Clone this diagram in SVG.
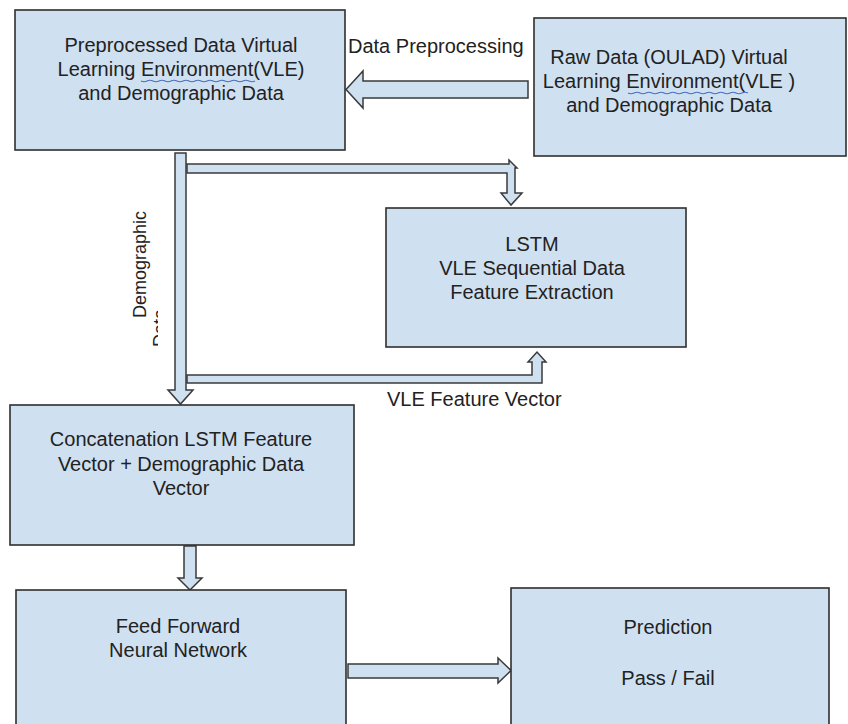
<svg xmlns="http://www.w3.org/2000/svg" width="848" height="724" viewBox="0 0 848 724">
  <defs>
    <style>
      .box { fill: #cfe0f1; stroke: #2f2f2f; stroke-width: 1.6; }
      .arr { fill: #cfe0f1; stroke: #3a3a3a; stroke-width: 1.5; stroke-linejoin: miter; }
      .t { font-family: "Liberation Sans", Arial, sans-serif; font-size: 20px; fill: #222; }
      .c { text-anchor: middle; }
      .squig { fill: none; stroke: #4a6fc0; stroke-width: 1.2; }
    </style>
    <clipPath id="dataClip">
      <rect x="140" y="200" width="18" height="200"/>
    </clipPath>
  </defs>
  <rect width="848" height="724" fill="#ffffff"/>

  <g id="connectors">
    <!-- Raw -> Preprocessed -->
    <polygon class="arr" points="528,81 363,81 363,71 346,89.5 363,108 363,98 528,98"/>
    <!-- top branch to LSTM -->
    <polygon class="arr" points="187,164 509,164 509,160 517,168 515,168 515,193 522,193 511,205 501,193 507,193 507,173 187,173"/>
    <!-- bottom branch from LSTM (VLE feature vector) -->
    <polygon class="arr" points="187,375 532,375 532,362 528,362 537,352 546,362 542,362 542,383 187,383"/>
    <!-- main vertical bar down to concatenation -->
    <polygon class="arr" points="175,153 186,153 186,390 193,390 180.5,404 168,390 175,390"/>
    <!-- concatenation -> feed forward -->
    <polygon class="arr" points="184,546 196,546 196,578 202,578 190,590 178,578 184,578"/>
    <!-- feed forward -> prediction -->
    <polygon class="arr" points="348,664 498,664 498,658 511,670.5 498,683 498,678 348,678"/>
    <text class="t" x="348" y="53">Data Preprocessing</text>
    <text class="t" x="387" y="406">VLE Feature Vector</text>
    <text class="t" style="font-size:18px" transform="translate(146,318) rotate(-90)">Demographic</text>
    <g clip-path="url(#dataClip)">
      <text class="t" style="font-size:18px" transform="translate(166,347) rotate(-90)">Data</text>
    </g>
  </g>

  <g id="preprocessed">
    <rect class="box" x="15" y="10" width="330" height="140"/>
    <text class="t c" x="181" y="52">Preprocessed Data Virtual</text>
    <text class="t c" x="181" y="76">Learning Environment(VLE)</text>
    <text class="t c" x="181" y="100">and Demographic Data</text>
    <path class="squig" d="M141,81 q3,1.5 6,0 t6,0 t6,0 t6,0 t6,0 t6,0 t6,0 t6,0 t6,0 t6,0 t6,0 t6,0 t6,0 t6,0 t6,0 t6,0 t6,0 t6,0 t6,0"/>
  </g>

  <g id="raw">
    <rect class="box" x="534" y="18" width="312" height="138"/>
    <text class="t c" x="669" y="64">Raw Data (OULAD) Virtual</text>
    <text class="t c" x="669" y="88">Learning Environment(VLE )</text>
    <text class="t c" x="669" y="112">and Demographic Data</text>
    <path class="squig" d="M628,93 q3,1.5 6,0 t6,0 t6,0 t6,0 t6,0 t6,0 t6,0 t6,0 t6,0 t6,0 t6,0 t6,0 t6,0 t6,0 t6,0 t6,0 t6,0 t6,0 t6,0 t6,0"/>
  </g>

  <g id="lstm">
    <rect class="box" x="386" y="208" width="300" height="139"/>
    <text class="t c" x="532" y="251">LSTM</text>
    <text class="t c" x="532" y="275">VLE Sequential Data</text>
    <text class="t c" x="532" y="299">Feature Extraction</text>
  </g>

  <g id="concatenation">
    <rect class="box" x="10" y="405" width="344" height="140"/>
    <text class="t c" x="181" y="446">Concatenation LSTM Feature</text>
    <text class="t c" x="181" y="471">Vector + Demographic Data</text>
    <text class="t c" x="181" y="495">Vector</text>
  </g>

  <g id="feedforward">
    <rect class="box" x="16" y="590" width="330" height="145"/>
    <text class="t c" x="178" y="633">Feed Forward</text>
    <text class="t c" x="178" y="657">Neural Network</text>
  </g>

  <g id="prediction">
    <rect class="box" x="511" y="588" width="318" height="147"/>
    <text class="t c" x="668" y="634">Prediction</text>
    <text class="t c" x="668" y="685">Pass / Fail</text>
  </g>
</svg>
